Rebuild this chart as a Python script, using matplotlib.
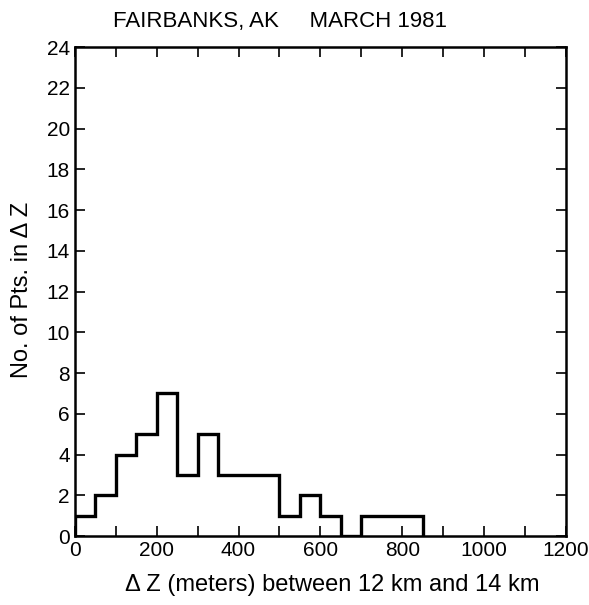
import numpy as np
import matplotlib.pyplot as plt

# Histogram of height differences, 50 m bins
bin_edges = [0, 50, 100, 150, 200, 250, 300, 350, 400, 450, 500,
             550, 600, 650, 700, 750, 800, 850]
counts = [1, 2, 4, 5, 7, 3, 5, 3, 3, 3, 1, 2, 1, 0, 1, 1, 1]

x_major = [0, 200, 400, 600, 800, 1000, 1200]
x_minor = [100, 300, 500, 700, 900, 1100]
y_ticks = list(range(0, 25, 2))

plt.rcParams["font.family"] = ["Liberation Sans", "DejaVu Sans"]

fig = plt.figure(figsize=(5.89, 6.05), dpi=100)
ax = fig.add_axes([0.127, 0.114, 0.834, 0.808])

ax.stairs(counts, bin_edges, color="black", linewidth=2.4, baseline=0)

ax.set_xlim(0, 1200)
ax.set_ylim(0, 24)
ax.set_xticks(x_major)
ax.set_xticks(x_minor, minor=True)
ax.set_yticks(y_ticks)
ax.tick_params(which="both", direction="in", top=True, right=True,
               length=7, width=1.2, labelsize=15)
for side in ax.spines.values():
    side.set_linewidth(1.8)

fig.text(332 / 589, 1 - 585 / 605, "Δ Z (meters) between 12 km and 14 km",
         fontsize=17, ha="center", va="center")
fig.text(22 / 589, 1 - 290 / 605, "No. of Pts. in Δ Z",
         fontsize=17, rotation=90, ha="center", va="center")
fig.text(280 / 589, 1 - 22 / 605, "FAIRBANKS, AK     MARCH 1981",
         fontsize=16, ha="center", va="center")

fig.savefig("out.png", dpi=100)
